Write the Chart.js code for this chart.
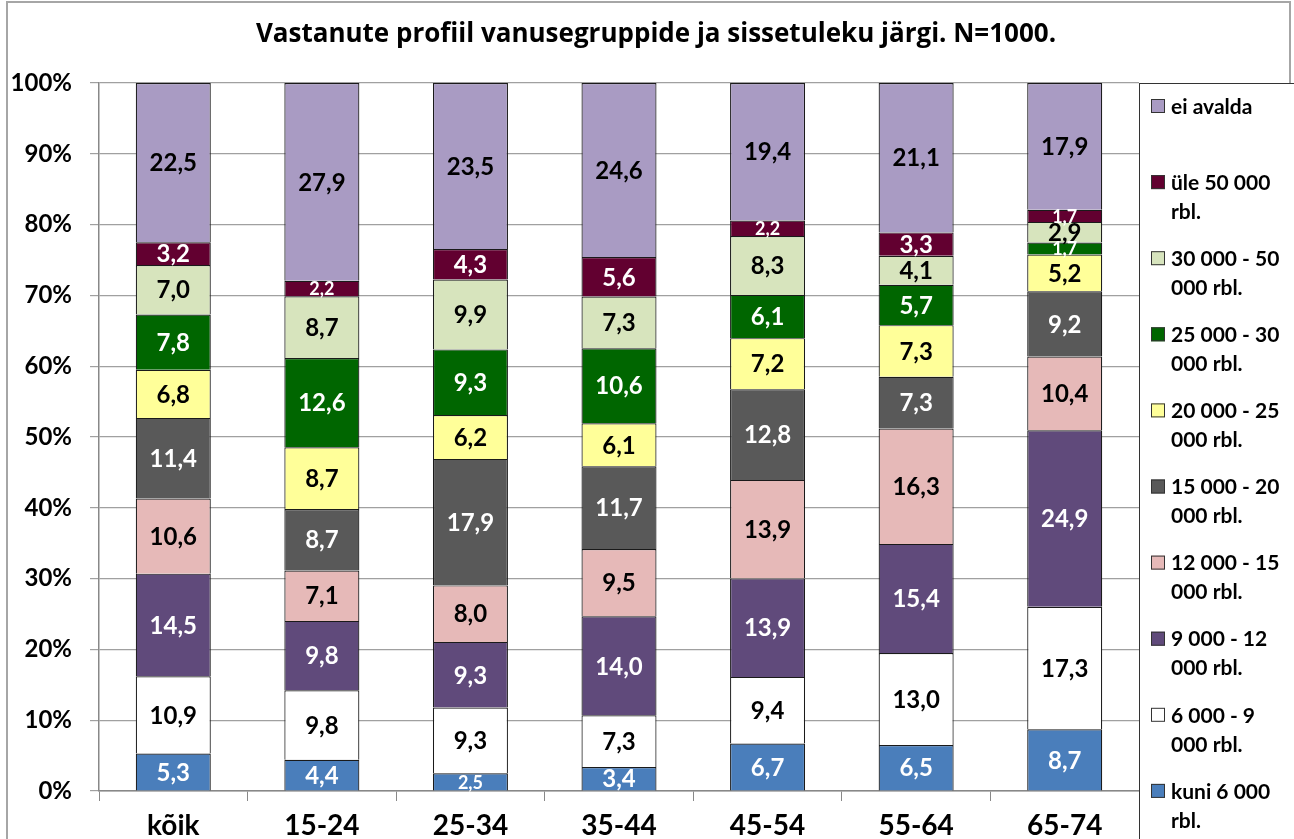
<!DOCTYPE html>
<html>
<head>
<meta charset="utf-8">
<script src="https://cdn.jsdelivr.net/npm/chart.js@4.4.1/dist/chart.umd.min.js"></script>
<style>
  html, body { margin: 0; padding: 0; background: #fff; }
  #wrap { width: 1294px; height: 839px; }
</style>
</head>
<body>
<div id="wrap"><canvas id="myChart" width="1294" height="839"></canvas></div>
<script>
// Age groups
const categories = ['kõik', '15-24', '25-34', '35-44', '45-54', '55-64', '65-74'];

// Income groups, bottom of the stack first (legend lines as shown)
const seriesNames = [
    ['kuni 6 000', 'rbl.'],
    ['6 000 - 9', '000 rbl.'],
    ['9 000 - 12', '000 rbl.'],
    ['12 000 - 15', '000 rbl.'],
    ['15 000 - 20', '000 rbl.'],
    ['20 000 - 25', '000 rbl.'],
    ['25 000 - 30', '000 rbl.'],
    ['30 000 - 50', '000 rbl.'],
    ['üle 50 000', 'rbl.'],
    ['ei avalda']
];

const kuni6000   = [5.3, 4.4, 2.5, 3.4, 6.7, 6.5, 8.7];
const r6000_9000 = [10.9, 9.8, 9.3, 7.3, 9.4, 13.0, 17.3];
const r9000_12000 = [14.5, 9.8, 9.3, 14.0, 13.9, 15.4, 24.9];
const r12000_15000 = [10.6, 7.1, 8.0, 9.5, 13.9, 16.3, 10.4];
const r15000_20000 = [11.4, 8.7, 17.9, 11.7, 12.8, 7.3, 9.2];
const r20000_25000 = [6.8, 8.7, 6.2, 6.1, 7.2, 7.3, 5.2];
const r25000_30000 = [7.8, 12.6, 9.3, 10.6, 6.1, 5.7, 1.7];
const r30000_50000 = [7.0, 8.7, 9.9, 7.3, 8.3, 4.1, 2.9];
const yle50000   = [3.2, 2.2, 4.3, 5.6, 2.2, 3.3, 1.7];
const eiAvalda   = [22.5, 27.9, 23.5, 24.6, 19.4, 21.1, 17.9];

const seriesValues = [kuni6000, r6000_9000, r9000_12000, r12000_15000, r15000_20000,
    r20000_25000, r25000_30000, r30000_50000, yle50000, eiAvalda];

const yTicks = [0, 10, 20, 30, 40, 50, 60, 70, 80, 90, 100];

const titleText = 'Vastanute profiil vanusegruppide ja sissetuleku järgi. N=1000.';

const fillColors = ['#4a7ebb', '#ffffff', '#604a7b', '#e6b9b8', '#595959',
    '#ffff99', '#006600', '#d7e4bd', '#620030', '#a99bc3'];
const labelColors = ['#fff', '#000', '#fff', '#000', '#fff',
    '#000', '#fff', '#000', '#fff', '#000'];

// 100% stacked: scale each column to its total
const totals = categories.map((c, i) => seriesValues.reduce((s, arr) => s + arr[i], 0));

const datasets = seriesValues.map((vals, k) => ({
    label: seriesNames[k].join(' '),
    data: vals.map((v, i) => v / totals[i] * 100),
    raw: vals,
    backgroundColor: fillColors[k],
    borderColor: '#1a1a1a',
    borderWidth: 1.2,
    barPercentage: 0.505,
    categoryPercentage: 1.0
}));

const FONT = 'Lato, "Open Sans", sans-serif';

// value labels in the middle of every segment
const valueLabels = {
    id: 'valueLabels',
    afterDatasetsDraw(chart) {
        const ctx = chart.ctx;
        ctx.save();
        ctx.textAlign = 'center';
        ctx.textBaseline = 'middle';
        chart.data.datasets.forEach((ds, k) => {
            const meta = chart.getDatasetMeta(k);
            meta.data.forEach((bar, i) => {
                const v = ds.raw[i];
                const size = v < 2.7 ? 18 : 24;
                ctx.font = 'bold ' + size + 'px ' + FONT;
                ctx.fillStyle = labelColors[k];
                const y = (bar.y + bar.base) / 2;
                ctx.fillText(v.toFixed(1).replace('.', ','), bar.x, y + 1);
            });
        });
        ctx.restore();
    }
};

// outer frame, title and legend box on the right
const frameAndLegend = {
    id: 'frameAndLegend',
    beforeDraw(chart) {
        const ctx = chart.ctx;
        ctx.save();
        ctx.fillStyle = '#fff';
        ctx.fillRect(0, 0, chart.width, chart.height);
        ctx.strokeStyle = '#a6a6a6';
        ctx.lineWidth = 2;
        ctx.strokeRect(7, 2, 1283, 860);
        ctx.fillStyle = '#000';
        ctx.font = 'bold 26px "Open Sans", Lato, sans-serif';
        ctx.textAlign = 'center';
        ctx.textBaseline = 'alphabetic';
        ctx.fillText(titleText, 656, 42);
        ctx.restore();
    },
    afterDraw(chart) {
        const ctx = chart.ctx;
        ctx.save();
        ctx.fillStyle = '#fff';
        ctx.fillRect(1139, 83, 200, 800);
        ctx.strokeStyle = '#333';
        ctx.lineWidth = 1;
        ctx.strokeRect(1139.5, 83.5, 200, 800);
        ctx.font = 'bold 21px ' + FONT;
        ctx.textBaseline = 'middle';
        ctx.textAlign = 'left';
        const n = chart.data.datasets.length;
        for (let j = 0; j < n; j++) {
            const k = n - 1 - j;
            const yc = 106 + j * 76.1;
            ctx.fillStyle = fillColors[k];
            ctx.fillRect(1151, yc - 7, 14, 14);
            ctx.strokeStyle = '#333';
            ctx.strokeRect(1151.5, yc - 6.5, 13, 13);
            ctx.fillStyle = '#000';
            seriesNames[k].forEach((line, li) => {
                ctx.fillText(line, 1171, yc + 1 + li * 29);
            });
        }
        ctx.restore();
    }
};

const ctx = document.getElementById('myChart').getContext('2d');

const myChart = new Chart(ctx, {
    type: 'bar',
    data: {
        labels: categories,
        datasets: datasets
    },
    plugins: [valueLabels, frameAndLegend],
    options: {
        responsive: false,
        animation: false,
        layout: { padding: { left: 0, right: 155, top: 83, bottom: 0 } },
        plugins: {
            legend: { display: false },
            tooltip: { enabled: false },
            title: { display: false }
        },
        scales: {
            x: {
                stacked: true,
                grid: {
                    offset: true,
                    drawOnChartArea: false,
                    drawTicks: true,
                    tickLength: 10,
                    color: '#888'
                },
                border: { color: '#888', width: 1.5 },
                ticks: {
                    color: '#000',
                    padding: 8,
                    font: { family: FONT, size: 28, weight: 'bold' }
                },
                afterFit(scale) { scale.height = 48; }
            },
            y: {
                stacked: true,
                min: 0,
                max: 100,
                afterBuildTicks(scale) { scale.ticks = yTicks.map(v => ({ value: v })); },
                grid: {
                    color: '#a0a0a0',
                    lineWidth: 1.2,
                    tickLength: 9
                },
                border: { color: '#888', width: 1.5 },
                ticks: {
                    color: '#000',
                    padding: 18,
                    font: { family: FONT, size: 24, weight: 'bold' },
                    callback: v => v + '%'
                },
                afterFit(scale) { scale.width = 99; }
            }
        }
    }
});
</script>
</body>
</html>
